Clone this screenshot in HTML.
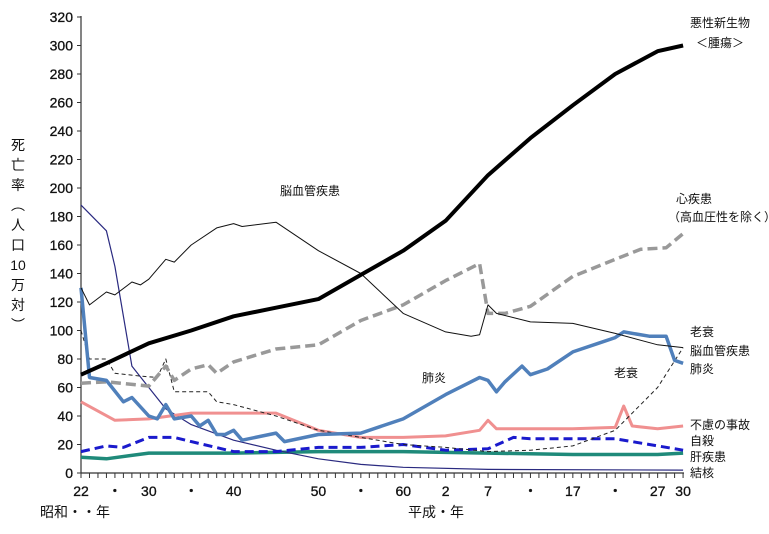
<!DOCTYPE html>
<html><head><meta charset="utf-8"><style>
body{margin:0;background:#fff}
svg text{font-family:"Liberation Sans","Noto Sans CJK JP",sans-serif;fill:#111}
</style></head><body>
<svg id="s" width="769" height="529" xmlns="http://www.w3.org/2000/svg"></svg>
<script>
const s=document.getElementById('s');
const X=y=>81+(y-1947)*8.48, Y=v=>473-v*1.425;
let h='';
h+='<line x1="81" y1="16" x2="81" y2="473" stroke="#333" stroke-width="1.2"/>';
h+='<line x1="81" y1="473" x2="684" y2="473" stroke="#333" stroke-width="1.2"/>';
for(let v=0;v<=320;v+=20){const y=Y(v);h+=`<line x1="77" y1="${y}" x2="81" y2="${y}" stroke="#333"/><text x="73" y="${y+5}" font-size="14" text-anchor="end" stroke="#111" stroke-width="0.3">${v}</text>`;}
for(let yr=1947;yr<=2018;yr++){const x=X(yr);h+=`<line x1="${x}" y1="473" x2="${x}" y2="478" stroke="#333"/>`;}
const xl=[[1947,'22'],[1951,'・'],[1955,'30'],[1960,'・'],[1965,'40'],[1975,'50'],[1980,'・'],[1985,'60'],[1990,'2'],[1995,'7'],[2000,'・'],[2005,'17'],[2010,'・'],[2015,'27'],[2018,'30']];
xl.forEach(([yr,t])=>{h+=`<text x="${X(yr)}" y="496" font-size="14" text-anchor="middle" stroke="#111" stroke-width="0.3">${t}</text>`});
function line(d,c,w,dash){let p=d.map(([a,b])=>X(a).toFixed(1)+','+Y(b).toFixed(1)).join(' ');
h+=`<polyline points="${p}" fill="none" stroke="${c}" stroke-width="${w}" ${dash?`stroke-dasharray="${dash}"`:''} stroke-linejoin="round"/>`;}
line([[1947,11],[1950,10],[1955,14],[1965,14],[1975,15],[1985,15],[1995,14],[2005,13],[2015,13],[2018,14]],'#1f8a7a',3.5);
line([[1947,188],[1950,170],[1951,145],[1953,75],[1955,60],[1957,45],[1960,34],[1965,23],[1970,16],[1975,10],[1980,6],[1985,4],[1995,2.5],[2018,2]],'#2a2a80',1.2);
line([[1947,50],[1951,37],[1955,38],[1960,42],[1965,42],[1970,42],[1975,30],[1980,25],[1985,25],[1990,26],[1994,30],[1995,37],[1996,31],[2005,31],[2010,32],[2011,47],[2012,33],[2015,31],[2018,33]],'#f09090',3);
line([[1947,15],[1950,19],[1952,18],[1955,25],[1958,25],[1960,22],[1965,15],[1970,15],[1975,18],[1980,18],[1985,20],[1990,16],[1995,17],[1998,25],[2000,24],[2005,24],[2010,24],[2015,19],[2018,16]],'#1a1acc',3,'9,5');
line([[1947,100],[1948,80],[1950,80],[1951,70],[1954,68],[1956,67],[1957,80],[1958,57],[1960,57],[1962,57],[1963,50],[1965,48],[1970,40],[1975,30],[1980,25],[1985,20],[1990,18],[1995,15],[2000,16],[2005,19],[2010,30],[2015,60],[2018,88]],'#222',1,'4,3');
line([[1947,63],[1950,64],[1955,61],[1957,75],[1958,65],[1960,73],[1962,76],[1963,70],[1965,78],[1970,87],[1975,90],[1980,107],[1985,118],[1990,135],[1994,147],[1995,112],[1997,112],[2000,117],[2005,138],[2010,150],[2013,157],[2016,158],[2018,168]],'#999',3.5,'10,5');
line([[1947,130],[1948,67],[1950,65],[1952,50],[1953,53],[1955,40],[1956,38],[1957,48],[1958,38],[1960,40],[1961,33],[1962,37],[1963,27],[1964,27],[1965,30],[1966,23],[1970,28],[1971,22],[1975,27],[1980,28],[1985,38],[1990,55],[1994,67],[1995,65],[1996,57],[1997,64],[1999,75],[2000,69],[2002,73],[2005,85],[2008,91],[2010,95],[2011,99],[2014,96],[2016,96],[2017,79],[2018,77]],'#5080bb',3.5);
line([[1947,130],[1948,118],[1950,127],[1951,125],[1953,134],[1954,132],[1955,136],[1957,150],[1958,148],[1960,160],[1963,172],[1965,175],[1966,173],[1970,176],[1975,156],[1980,140],[1985,112],[1990,99],[1993,96],[1994,97],[1995,118],[1996,112],[2000,106],[2005,105],[2010,98],[2015,90],[2018,88]],'#111',1);
line([[1947,69],[1950,77],[1955,91],[1960,100],[1965,110],[1970,116],[1975,122],[1980,139],[1985,156],[1990,177],[1995,209],[2000,235],[2005,258],[2010,280],[2015,296],[2018,300]],'#000',4);
const T=(x,y,t,fs=12)=>h+=`<text x="${x}" y="${y}" font-size="${fs}">${t}</text>`;
T(690,27,'悪性新生物');T(696,47,'＜腫瘍＞');T(280,195,'脳血管疾患');T(676,203,'心疾患');T(668,221,'（高血圧性を除く）');
T(690,336,'老衰');T(690,355,'脳血管疾患');T(690,373,'肺炎');T(422,382,'肺炎');T(614,377,'老衰');
T(690,429,'不慮の事故');T(690,445,'自殺');T(690,461,'肝疾患');T(690,477,'結核');
T(40,517,'昭和・・年',14);T(408,517,'平成・年',14);
['死','亡','率','︵','人','口','10','万','対','︶'].forEach((c,i)=>{h+=`<text x="18" y="${150+i*20}" font-size="14" text-anchor="middle">${c}</text>`});
s.innerHTML=h;
</script>
</body></html>
